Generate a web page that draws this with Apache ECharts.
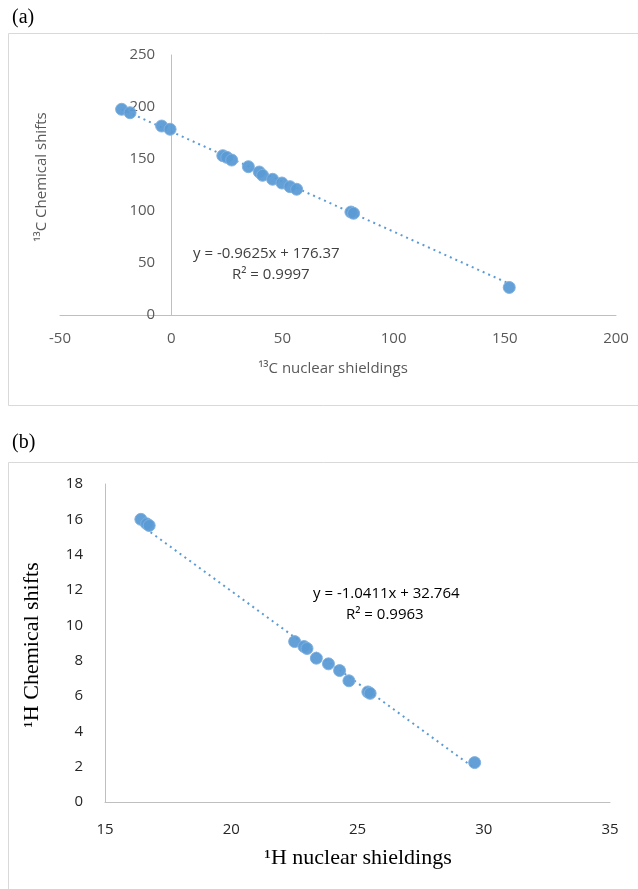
<!DOCTYPE html>
<html>
<head>
<meta charset="utf-8">
<script src="https://cdn.jsdelivr.net/npm/echarts@6/dist/echarts.min.js"></script>
<style>
  html, body { margin: 0; padding: 0; background: #fff; }
  #chart { width: 638px; height: 889px; }
</style>
</head>
<body>
<div id="chart"></div>
<script>
// (a) 13C data
var shieldC = [-22.3, -18.5, -4.3, -0.5, 23.2, 25.0, 27.2, 34.7, 39.6, 41.1, 45.6, 49.8, 53.4, 56.4, 80.8, 82.0, 152.0];
var shiftC  = [197.8, 194.5, 181.7, 178.6, 153.2, 151.6, 149.0, 142.6, 137.5, 134.3, 130.5, 126.9, 123.4, 120.9, 99.0, 97.8, 26.5];
var slopeC = -0.9625, interceptC = 176.37;
var xTicksC = [-50, 0, 50, 100, 150, 200];
var yTicksC = [0, 50, 100, 150, 200, 250];

// (b) 1H data
var shieldH = [16.42, 16.65, 16.75, 22.51, 22.88, 23.0, 23.37, 23.85, 24.29, 24.66, 25.41, 25.5, 29.64];
var shiftH  = [16.0, 15.75, 15.65, 9.08, 8.80, 8.69, 8.14, 7.82, 7.44, 6.86, 6.23, 6.15, 2.23];
var slopeH = -1.0411, interceptH = 32.764;
var xTicksH = [15, 20, 25, 30, 35];
var yTicksH = [0, 2, 4, 6, 8, 10, 12, 14, 16, 18];

var blue = '#5b9bd5';
var sans = '"Open Sans", sans-serif';
var serif = '"Liberation Serif", "DejaVu Serif", serif';

function pairs(xs, ys) {
  return xs.map(function (x, i) { return [x, ys[i]]; });
}
function trend(xs, m, b) {
  var lo = Math.min.apply(null, xs), hi = Math.max.apply(null, xs);
  return [[lo, m * lo + b], [hi, m * hi + b]];
}
function step(t) { return t[1] - t[0]; }

// grid (a) geometry; the y axis sits at x = 0 like in Excel
var gridA = { left: 60, right: 22, top: 55, bottom: 574 };
var widthA = 638 - gridA.left - gridA.right;
var lo = xTicksC[0], hi = xTicksC[xTicksC.length - 1];
var zeroOffset = -widthA * (0 - lo) / (hi - lo);

var chart = echarts.init(document.getElementById('chart'));

var option = {
  backgroundColor: '#fff',
  animation: false,
  grid: [
    gridA,
    { left: 105, right: 28, top: 484, bottom: 87 }
  ],
  xAxis: [
    {
      gridIndex: 0, type: 'value',
      min: lo, max: hi, interval: step(xTicksC),
      axisLine: { lineStyle: { color: '#bfbfbf', width: 1 } },
      axisTick: { show: false },
      splitLine: { show: false },
      axisLabel: { color: '#595959', fontFamily: sans, fontSize: 15, margin: 16 }
    },
    {
      gridIndex: 1, type: 'value',
      min: xTicksH[0], max: xTicksH[xTicksH.length - 1], interval: step(xTicksH),
      axisLine: { lineStyle: { color: '#bfbfbf', width: 1 } },
      axisTick: { show: false },
      splitLine: { show: false },
      axisLabel: { color: '#262626', fontFamily: sans, fontSize: 15, margin: 20 }
    }
  ],
  yAxis: [
    {
      gridIndex: 0, type: 'value',
      min: yTicksC[0], max: yTicksC[yTicksC.length - 1], interval: step(yTicksC),
      offset: zeroOffset,
      axisLine: { show: true, onZero: false, lineStyle: { color: '#bfbfbf', width: 1 } },
      axisTick: { show: false },
      splitLine: { show: false },
      axisLabel: { color: '#595959', fontFamily: sans, fontSize: 15, margin: 16 }
    },
    {
      gridIndex: 1, type: 'value',
      min: yTicksH[0], max: yTicksH[yTicksH.length - 1], interval: step(yTicksH),
      axisLine: { show: true, lineStyle: { color: '#bfbfbf', width: 1 } },
      axisTick: { show: false },
      splitLine: { show: false },
      axisLabel: { color: '#262626', fontFamily: sans, fontSize: 15, margin: 22 }
    }
  ],
  series: [
    {
      type: 'line', xAxisIndex: 0, yAxisIndex: 0,
      data: trend(shieldC, slopeC, interceptC),
      symbol: 'none', silent: true, z: 1,
      lineStyle: { color: blue, width: 2, type: [2, 4] }
    },
    {
      type: 'scatter', xAxisIndex: 0, yAxisIndex: 0,
      data: pairs(shieldC, shiftC),
      symbolSize: 12, z: 2,
      itemStyle: { color: blue, borderColor: '#7fb0de', borderWidth: 1, opacity: 0.95 }
    },
    {
      type: 'line', xAxisIndex: 1, yAxisIndex: 1,
      data: trend(shieldH, slopeH, interceptH),
      symbol: 'none', silent: true, z: 1,
      lineStyle: { color: blue, width: 2, type: [2, 4] }
    },
    {
      type: 'scatter', xAxisIndex: 1, yAxisIndex: 1,
      data: pairs(shieldH, shiftH),
      symbolSize: 12, z: 2,
      itemStyle: { color: blue, borderColor: '#7fb0de', borderWidth: 1, opacity: 0.95 }
    }
  ],
  graphic: [
    // panel frames
    { type: 'rect', shape: { x: 8.5, y: 33.5, width: 640, height: 372 }, style: { fill: 'none', stroke: '#d9d9d9', lineWidth: 1 }, z: -1 },
    { type: 'rect', shape: { x: 8.5, y: 462.5, width: 640, height: 440 }, style: { fill: 'none', stroke: '#d9d9d9', lineWidth: 1 }, z: -1 },
    // panel letters
    { type: 'text', left: 12, top: 8, style: { text: '(a)', font: '20px ' + serif, fill: '#000' } },
    { type: 'text', left: 12, top: 433, style: { text: '(b)', font: '20px ' + serif, fill: '#000' } },
    // (a) axis titles
    { type: 'text', x: 333, y: 369, style: { text: '¹³C nuclear shieldings', font: '15px ' + sans, fill: '#595959', align: 'center', verticalAlign: 'middle' } },
    { type: 'text', x: 42, y: 177, rotation: Math.PI / 2, style: { text: '¹³C Chemical shifts', font: '15px ' + sans, fill: '#595959', align: 'center', verticalAlign: 'middle' } },
    // (a) regression text
    { type: 'text', x: 193, y: 254, style: { text: 'y = -0.9625x + 176.37', font: '15px ' + sans, fill: '#404040', verticalAlign: 'middle' } },
    { type: 'text', x: 232, y: 275, style: { text: 'R² = 0.9997', font: '15px ' + sans, fill: '#404040', verticalAlign: 'middle' } },
    // (b) axis titles
    { type: 'text', x: 358, y: 858, style: { text: '¹H nuclear shieldings', font: '22px ' + serif, fill: '#000', align: 'center', verticalAlign: 'middle' } },
    { type: 'text', x: 32, y: 645, rotation: Math.PI / 2, style: { text: '¹H Chemical shifts', font: '22px ' + serif, fill: '#000', align: 'center', verticalAlign: 'middle' } },
    // (b) regression text
    { type: 'text', x: 313, y: 594, style: { text: 'y = -1.0411x + 32.764', font: '15px ' + sans, fill: '#000', verticalAlign: 'middle' } },
    { type: 'text', x: 346, y: 615, style: { text: 'R² = 0.9963', font: '15px ' + sans, fill: '#000', verticalAlign: 'middle' } }
  ]
};

chart.setOption(option);
</script>
</body>
</html>
